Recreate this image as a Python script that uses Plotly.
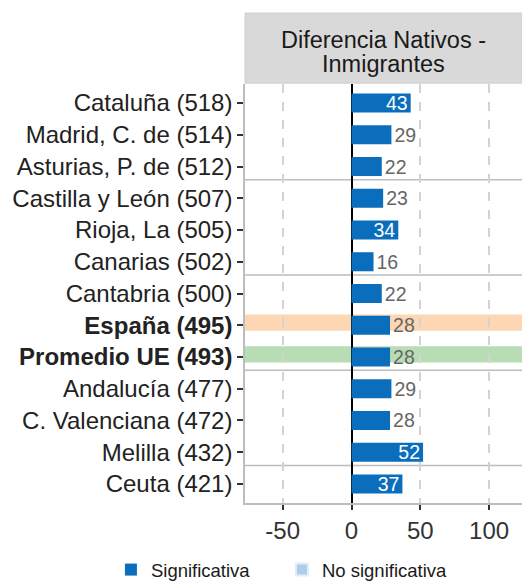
import plotly.graph_objects as go

regions = ["Cataluña (518)", "Madrid, C. de (514)", "Asturias, P. de (512)",
           "Castilla y León (507)", "Rioja, La (505)", "Canarias (502)",
           "Cantabria (500)", "España (495)", "Promedio UE (493)",
           "Andalucía (477)", "C. Valenciana (472)", "Melilla (432)", "Ceuta (421)"]
diff = [43, 29, 22, 23, 34, 16, 22, 28, 28, 29, 28, 52, 37]
significant = [True] * 13
bold_labels = ["España (495)", "Promedio UE (493)"]
x_ticks = [-50, 0, 50, 100]
header_lines = ["Diferencia Nativos -", "Inmigrantes"]

FONT = "Liberation Sans, Arial, sans-serif"
DARK = "#0A6EBD"
LIGHT = "#A9CFEA"

ticktext = [f"<b>{r}</b>" if r in bold_labels else r for r in regions]
textpos = ["inside" if v > 30 else "outside" for v in diff]

sig_x = [v for v, s in zip(diff, significant) if s]
sig_y = [r for r, s in zip(regions, significant) if s]
sig_pos = [p for p, s in zip(textpos, significant) if s]

fig = go.Figure()
fig.add_trace(go.Bar(
    x=sig_x, y=sig_y, orientation="h", name="Significativa",
    marker=dict(color=DARK, line=dict(width=0)),
    text=[str(v) for v in sig_x], textposition=sig_pos,
    insidetextanchor="end", textangle=0, constraintext="none",
    insidetextfont=dict(color="white", size=19.5, family=FONT),
    outsidetextfont=dict(color="#666666", size=19.5, family=FONT),
    cliponaxis=False, width=0.6,
))
fig.add_trace(go.Bar(
    x=[None], y=[regions[0]], orientation="h", name="No significativa",
    marker=dict(color=LIGHT), showlegend=True,
))

# highlight bands
band_colors = {"España (495)": "rgba(253,205,160,0.8)", "Promedio UE (493)": "rgba(160,210,155,0.75)"}
for r, c in band_colors.items():
    i = regions.index(r)
    fig.add_shape(type="rect", xref="paper", x0=0, x1=1, yref="y",
                  y0=i - 0.34, y1=i + 0.17, fillcolor=c, line=dict(width=0), layer="below")

# group separators
for k in [2, 5, 8, 11]:
    fig.add_shape(type="line", xref="paper", x0=0, x1=1, yref="y",
                  y0=k + 0.42, y1=k + 0.42, line=dict(color="#BDBDBD", width=1.5), layer="below")

# header strip
PH = 419.0
fig.add_shape(type="rect", xref="paper", yref="paper", x0=0, x1=1, y0=1.002, y1=1 + 71 / PH,
              fillcolor="#D9D9D9", line=dict(color="#D0D0D0", width=1))
for line, py in zip(header_lines, [44, 20]):
    fig.add_annotation(xref="paper", yref="paper", x=0.5, y=1 + py / PH, text=line, showarrow=False,
                       font=dict(size=23.5, color="#1A1A1A", family=FONT), align="center",
                       yanchor="middle")

fig.update_layout(
    width=522, height=582,
    margin=dict(l=245, r=0, t=84, b=79, autoexpand=False),
    plot_bgcolor="white", paper_bgcolor="white",
    font=dict(family=FONT, size=24, color="#333333"),
    barmode="overlay",
    xaxis=dict(range=[-77.4, 123.9], tickvals=x_ticks, ticktext=[str(t) for t in x_ticks],
               showgrid=True, gridcolor="#D3D3D3", gridwidth=1.5, griddash="dash",
               zeroline=True, zerolinecolor="black", zerolinewidth=2,
               showline=True, linecolor="#BDBDBD", linewidth=1.5,
               ticks="outside", ticklen=5, tickcolor="#333333", tickwidth=1.5,
               tickfont=dict(size=24, color="#333333"), fixedrange=True, automargin=False),
    yaxis=dict(type="category", categoryorder="array", categoryarray=regions,
               tickvals=regions, ticktext=ticktext, range=[12.6, -0.6],
               showgrid=False, zeroline=False,
               showline=True, linecolor="#BDBDBD", linewidth=1.5,
               ticks="outside", ticklen=6, tickcolor="#333333", tickwidth=1.5,
               tickfont=dict(size=24, color="#222222"), automargin=False),
    legend=dict(orientation="h", x=-0.484, xanchor="left", y=-0.160, yanchor="middle",
                font=dict(size=18.5, color="#1A1A1A"), itemsizing="constant",
                bgcolor="rgba(0,0,0,0)", entrywidth=126),
    bargap=0.4,
)

fig.write_html("out.html", config={"displayModeBar": False},
               post_script="document.body.style.margin='0';document.body.style.overflow='hidden';")
